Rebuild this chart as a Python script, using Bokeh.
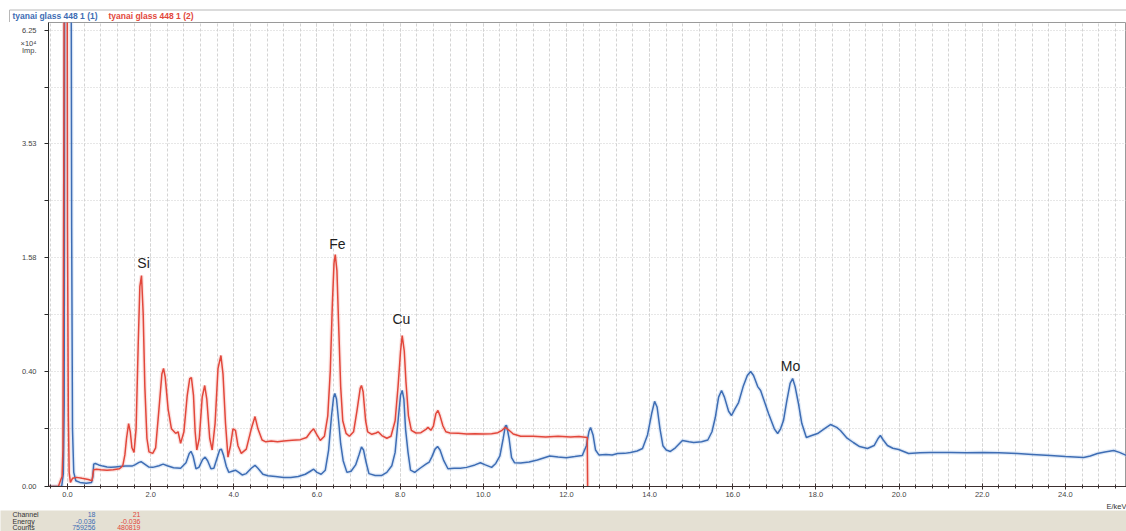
import numpy as np
from bokeh.plotting import figure
from bokeh.layouts import column
from bokeh.models import (Range1d, FixedTicker, SingleIntervalTicker, Title,
                          ColumnDataSource, PrintfTickFormatter, CustomJSTickFormatter)
from bokeh.embed import file_html
from bokeh.resources import INLINE
from bokeh.core.properties import value

# ---------------- data ----------------
series_names = ["tyanai glass 448 1 (1)", "tyanai glass 448 1 (2)"]

energy_blue = [
    -0.45, -0.14, -0.10, -0.08, -0.06, -0.036, 0.00, 0.05, 0.08, 0.10,
    0.12, 0.15, 0.20, 0.30, 0.45, 0.58, 0.61, 0.63, 0.67, 0.75,
    0.85, 0.95, 1.05, 1.15, 1.25, 1.40, 1.55, 1.62, 1.72, 1.77,
    1.83, 1.95, 2.05, 2.20, 2.30, 2.40, 2.55, 2.72, 2.85, 2.93,
    2.97, 3.02, 3.09, 3.16, 3.25, 3.31, 3.37, 3.45, 3.52, 3.60,
    3.66, 3.70, 3.75, 3.82, 3.88, 3.96, 4.04, 4.12, 4.20, 4.30,
    4.42, 4.51, 4.58, 4.70, 4.82, 5.00, 5.20, 5.37, 5.55, 5.72,
    5.84, 5.92, 6.00, 6.10, 6.20, 6.28, 6.35, 6.40, 6.43, 6.47,
    6.52, 6.57, 6.63, 6.72, 6.82, 6.93, 7.01, 7.07, 7.12, 7.18,
    7.25, 7.40, 7.55, 7.68, 7.80, 7.88, 7.95, 8.01, 8.05, 8.09,
    8.13, 8.19, 8.25, 8.35, 8.48, 8.62, 8.70, 8.76, 8.84, 8.90,
    8.96, 9.05, 9.15, 9.30, 9.45, 9.60, 9.80, 9.93, 10.05, 10.20,
    10.30, 10.40, 10.48, 10.53, 10.56, 10.62, 10.68, 10.75, 10.90, 11.10,
    11.30, 11.60, 11.80, 12.00, 12.20, 12.38, 12.48, 12.54, 12.58, 12.64,
    12.70, 12.78, 12.95, 13.10, 13.23, 13.40, 13.54, 13.70, 13.83, 13.95,
    14.05, 14.12, 14.18, 14.25, 14.32, 14.40, 14.50, 14.62, 14.79, 14.95,
    15.06, 15.25, 15.40, 15.50, 15.58, 15.66, 15.73, 15.80, 15.90, 15.97,
    16.05, 16.14, 16.25, 16.35, 16.43, 16.50, 16.60, 16.67, 16.86, 17.00,
    17.08, 17.15, 17.22, 17.30, 17.38, 17.44, 17.50, 17.58, 17.66, 17.77,
    17.90, 18.04, 18.20, 18.35, 18.50, 18.59, 18.75, 18.90, 19.05, 19.24,
    19.40, 19.50, 19.55, 19.62, 19.72, 19.85, 19.99, 20.23, 20.50, 20.75,
    21.00, 21.24, 21.60, 22.03, 22.40, 22.85, 23.20, 23.64, 24.00, 24.44,
    24.60, 24.77, 24.95, 25.16, 25.30, 25.47,
]
counts_blue = [
    0, 0, 50, 2000, 200000, 759256, 700000, 400000, 150000, 20000,
    1000, 60, 10, 5, 3, 5, 30, 150, 159, 140,
    125, 115, 110, 115, 120, 125, 125, 140, 175, 185,
    160, 115, 110, 130, 150, 130, 105, 100, 170, 330,
    370, 280, 95, 110, 220, 260, 200, 95, 100, 250,
    400, 420, 300, 120, 60, 70, 80, 60, 40, 50,
    100, 135, 100, 45, 35, 30, 25, 24, 30, 45,
    70, 90, 60, 45, 80, 400, 1500, 2400, 2600, 2300,
    1300, 550, 200, 60, 70, 140, 300, 470, 400, 180,
    50, 36, 36, 60, 130, 350, 1300, 2500, 2770, 2300,
    1000, 350, 80, 60, 100, 150, 180, 260, 420, 480,
    400, 200, 95, 100, 100, 110, 140, 170, 140, 110,
    160, 280, 700, 1100, 1120, 700, 250, 170, 165, 180,
    210, 280, 260, 250, 270, 290, 500, 900, 1046, 800,
    400, 300, 310, 300, 327, 330, 348, 380, 434, 800,
    1600, 2180, 1900, 1000, 500, 400, 370, 450, 636, 600,
    580, 600, 650, 900, 1430, 2400, 2770, 2400, 1700, 1515,
    1800, 2120, 3000, 3700, 3975, 3700, 3000, 2770, 1602, 1000,
    844, 1000, 1309, 2200, 3200, 3506, 3000, 2071, 1200, 722,
    780, 844, 1000, 1155, 1050, 943, 700, 582, 480, 434,
    505, 700, 782, 650, 505, 440, 412, 327, 340, 348,
    345, 348, 340, 348, 340, 327, 310, 289, 270, 253,
    280, 327, 360, 390, 350, 289,
]

energy_red = [
    -0.45, -0.22, -0.17, -0.13, -0.11, -0.09, -0.06, -0.036, -0.02, 0.00,
    0.02, 0.04, 0.07, 0.12, 0.22, 0.35, 0.50, 0.59, 0.61, 0.63,
    0.70, 0.80, 0.95, 1.10, 1.25, 1.33, 1.38, 1.42, 1.47, 1.51,
    1.55, 1.60, 1.65, 1.70, 1.74, 1.78, 1.82, 1.86, 1.91, 1.96,
    2.05, 2.12, 2.20, 2.27, 2.31, 2.35, 2.42, 2.50, 2.60, 2.66,
    2.72, 2.80, 2.88, 2.94, 2.98, 3.03, 3.07, 3.11, 3.17, 3.24,
    3.30, 3.35, 3.42, 3.48, 3.55, 3.62, 3.69, 3.74, 3.80, 3.86,
    3.92, 3.98, 4.04, 4.10, 4.18, 4.30, 4.42, 4.51, 4.58, 4.68,
    4.77, 4.90, 5.05, 5.20, 5.40, 5.60, 5.75, 5.85, 5.92, 6.00,
    6.08, 6.18, 6.26, 6.32, 6.37, 6.41, 6.44, 6.48, 6.52, 6.57,
    6.62, 6.70, 6.78, 6.88, 6.96, 7.04, 7.07, 7.11, 7.17, 7.22,
    7.32, 7.42, 7.47, 7.56, 7.68, 7.78, 7.88, 7.95, 8.01, 8.05,
    8.10, 8.14, 8.20, 8.27, 8.38, 8.50, 8.62, 8.67, 8.74, 8.80,
    8.86, 8.91, 8.96, 9.03, 9.10, 9.20, 9.40, 9.60, 9.80, 10.00,
    10.20, 10.35, 10.45, 10.53, 10.62, 10.72, 10.90, 11.20, 11.50, 11.80,
    12.10, 12.30, 12.45, 12.50, 12.51,
]
counts_red = [
    0, 0, 10, 30, 400, 30000, 300000, 480819, 250000, 20000,
    1500, 60, 5, 20, 25, 20, 15, 10, 40, 85,
    90, 85, 80, 85, 95, 130, 300, 700, 1190, 900,
    450, 350, 1000, 6000, 12000, 13380, 9000, 3000, 700, 360,
    330, 450, 1800, 3800, 4185, 3600, 1800, 1000, 850, 900,
    560, 900, 2500, 3500, 3571, 2500, 900, 400, 700, 2400,
    3066, 2300, 700, 400, 1200, 4200, 5158, 3800, 1200, 260,
    500, 1000, 950, 500, 330, 420, 1000, 1470, 1000, 650,
    600, 620, 600, 620, 640, 660, 720, 900, 1000, 800,
    640, 760, 1500, 4000, 10000, 15000, 16180, 14000, 8000, 3000,
    1300, 850, 760, 900, 1700, 2900, 3070, 2700, 1300, 900,
    820, 860, 900, 780, 700, 760, 1300, 3000, 5500, 6850,
    5500, 3300, 1500, 950, 860, 870, 980, 1050, 950, 1100,
    1600, 1740, 1500, 1100, 900, 860, 850, 830, 840, 830,
    840, 870, 950, 1050, 950, 830, 760, 760, 740, 760,
    740, 750, 730, 720, 0,
]

y_tick_counts = [0, 4000, 15800, 35300, 62500]
y_tick_labels = ["0.00", "0.40", "1.58", "3.53", "6.25"]
y_unit_lines = ["×10⁴", "Imp."]
x_unit = "E/keV"

peak_names = ["Si", "Fe", "Cu", "Mo"]
peak_label_energy = [1.83, 6.49, 8.03, 17.39]
peak_label_counts = [15080, 17745, 8482, 4400]

table_rows = ["Channel", "Energy", "Counts"]
cursor_blue = ["18", "-0.036", "759256"]
cursor_red = ["21", "-0.036", "480819"]

# ---------------- styling ----------------
BLUE = "#3e6db4"
RED = "#e2473b"
FONT = "Liberation Sans"
W = 1126

# ---- title strip ----
tf = figure(width=W, height=22, x_range=Range1d(0, W), y_range=Range1d(22, 0),
            output_backend="svg", toolbar_location=None, frame_align=False,
            x_axis_location=None, y_axis_location=None, min_border=0)
tf.grid.visible = False
tf.outline_line_color = None
tf.background_fill_color = "white"
tf.border_fill_color = "white"
tf.segment(x0=[9, 9], y0=[9.5, 9.5], x1=[W, 9], y1=[9.5, 22], line_color="#b8b8b8", line_width=1)
tf.text(x=[12, 108], y=[15.5, 15.5], text=series_names,
        text_color=[BLUE, RED], text_font=value(FONT), text_font_size="8.5px",
        text_font_style="bold", text_baseline="middle", text_align="left")

# ---- main plot ----
p = figure(width=W, height=488, x_range=Range1d(-0.457, 25.47), y_range=Range1d(0, 254.4),
           output_backend="svg", toolbar_location=None, frame_align=False,
           min_border_left=48, min_border_right=0, min_border_top=0, min_border_bottom=24)
p.background_fill_color = "white"
p.border_fill_color = "white"
p.outline_line_color = "#9a9a9a"

src_b = ColumnDataSource(dict(x=energy_blue, y=np.sqrt(np.array(counts_blue, dtype=float))))
src_r = ColumnDataSource(dict(x=energy_red, y=np.sqrt(np.array(counts_red, dtype=float))))

p.line("x", "y", source=src_b, line_color="#a9c6ea", line_width=4, line_alpha=0.35)
p.line("x", "y", source=src_r, line_color="#f3b0a8", line_width=4, line_alpha=0.35)
p.line("x", "y", source=src_b, line_color=BLUE, line_width=1.5)
p.line("x", "y", source=src_r, line_color=RED, line_width=1.5)

p.text(x=peak_label_energy, y=list(np.sqrt(peak_label_counts)), text=peak_names,
       text_font=value(FONT), text_font_size="14px", text_color="#1e1e1e",
       text_align="center", text_baseline="middle")

# x axis
xt = SingleIntervalTicker(interval=2, num_minor_ticks=5)
p.xaxis.ticker = xt
p.xaxis.formatter = PrintfTickFormatter(format="%.1f")
p.xaxis.major_label_text_font = FONT
p.xaxis.major_label_text_font_size = "7.5px"
p.xaxis.major_label_text_color = "#444444"
p.xaxis.major_label_standoff = 2
p.xaxis.axis_line_color = "#3b2f2f"
p.xaxis.major_tick_line_color = "#3b2f2f"
p.xaxis.minor_tick_line_color = "#3b2f2f"
p.xaxis.major_tick_in = 3
p.xaxis.major_tick_out = 3
p.xaxis.minor_tick_in = 2
p.xaxis.minor_tick_out = 2

# x unit title, right aligned under the axis
p.add_layout(Title(text=x_unit, align="right", text_font=FONT, text_font_size="7.5px",
                   text_font_style="normal", text_color="#333333", standoff=0, offset=0), "below")

# y axis (square-root scale); unit text is carried as two extra labels near the top
ymaj = [float(np.sqrt(v)) for v in y_tick_counts]
ymid = [(ymaj[i] + ymaj[i + 1]) / 2 for i in range(len(ymaj) - 1)]
unit_pos = [ymaj[-1] - 7.1, ymaj[-1] - 11.0]
label_pos = ymaj + unit_pos
label_txt = y_tick_labels + y_unit_lines
p.yaxis.ticker = FixedTicker(ticks=label_pos, minor_ticks=ymaj + ymid)
p.yaxis.formatter = CustomJSTickFormatter(args=dict(tpos=label_pos, tlab=label_txt), code="""
let best = 0, bd = 1e9;
for (let i = 0; i < tpos.length; i++) { const d = Math.abs(tpos[i] - tick); if (d < bd) { bd = d; best = i; } }
return tlab[best];
""")
p.yaxis.major_label_text_font = FONT
p.yaxis.major_label_text_font_size = "7.5px"
p.yaxis.major_label_text_color = "#444444"
p.yaxis.major_label_standoff = 8
p.yaxis.axis_line_color = "#2a2a2a"
p.yaxis.major_tick_line_color = None
p.yaxis.minor_tick_line_color = "#2a2a2a"
p.yaxis.major_tick_in = 0
p.yaxis.major_tick_out = 0
p.yaxis.minor_tick_in = 0
p.yaxis.minor_tick_out = 4

# grids
p.xgrid.grid_line_color = "#d4d4d4"
p.xgrid.grid_line_dash = "3 2"
p.xgrid.minor_grid_line_color = "#d4d4d4"
p.xgrid.minor_grid_line_dash = "3 2"
p.ygrid.ticker = FixedTicker(ticks=ymaj, minor_ticks=ymid)
p.ygrid.grid_line_color = "#cfcfcf"
p.ygrid.grid_line_dash = "1 2"
p.ygrid.minor_grid_line_color = "#cfcfcf"
p.ygrid.minor_grid_line_dash = "1 2"

# ---- cursor table strip ----
bf = figure(width=W, height=21, x_range=Range1d(0, W), y_range=Range1d(21, 0),
            output_backend="svg", toolbar_location=None, frame_align=False,
            x_axis_location=None, y_axis_location=None, min_border=0)
bf.grid.visible = False
bf.outline_line_color = None
bf.background_fill_color = "#e4e0d3"
bf.border_fill_color = "#e4e0d3"
rows_y = [4, 10.5, 17]
bf.text(x=[12] * 3, y=rows_y, text=table_rows, text_color="#333333",
        text_font=value(FONT), text_font_size="7px", text_baseline="middle", text_align="left")
bf.text(x=[95] * 3, y=rows_y, text=cursor_blue, text_color=BLUE,
        text_font=value(FONT), text_font_size="7px", text_baseline="middle", text_align="right")
bf.text(x=[140] * 3, y=rows_y, text=cursor_red, text_color=RED,
        text_font=value(FONT), text_font_size="7px", text_baseline="middle", text_align="right")

layout = column(tf, p, bf, spacing=0)
open("out.html", "w").write(file_html(layout, INLINE))
